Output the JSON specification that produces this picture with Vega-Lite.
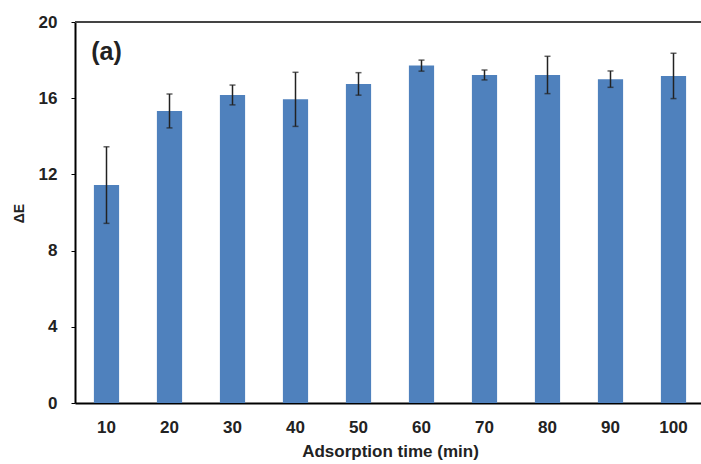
{
  "$schema": "https://vega.github.io/schema/vega-lite/v6.json",
  "autosize": {"type": "none"},
  "padding": {"left": 75, "top": 22, "right": 0, "bottom": 61},
  "width": 630,
  "height": 381,
  "background": "white",
  "config": {
    "view": {"stroke": null},
    "font": "Liberation Sans"
  },
  "data": {
    "values": [
      {"time": 10, "dE": 11.44, "lo": 9.43, "hi": 13.45},
      {"time": 20, "dE": 15.33, "lo": 14.44, "hi": 16.22},
      {"time": 30, "dE": 16.17, "lo": 15.65, "hi": 16.69},
      {"time": 40, "dE": 15.94, "lo": 14.52, "hi": 17.36},
      {"time": 50, "dE": 16.75, "lo": 16.16, "hi": 17.34},
      {"time": 60, "dE": 17.71, "lo": 17.42, "hi": 18.0},
      {"time": 70, "dE": 17.22, "lo": 16.96, "hi": 17.48},
      {"time": 80, "dE": 17.22, "lo": 16.24, "hi": 18.2},
      {"time": 90, "dE": 17.0, "lo": 16.57, "hi": 17.43},
      {"time": 100, "dE": 17.17, "lo": 15.98, "hi": 18.36}
    ]
  },
  "layer": [
    {
      "mark": {"type": "bar", "color": "#4F81BD"},
      "encoding": {
        "x": {
          "field": "time",
          "type": "ordinal",
          "scale": {"paddingInner": 0.6, "paddingOuter": 0.3},
          "axis": {
            "title": "Adsorption time (min)",
            "titleFont": "Liberation Sans",
            "titleFontSize": 17,
            "titleFontWeight": "bold",
            "titleColor": "#222222",
            "titlePadding": 8,
            "labelAngle": 0,
            "labelFontSize": 17,
            "labelFontWeight": "bold",
            "labelColor": "#222222",
            "labelPadding": 16,
            "ticks": false,
            "domainColor": "black",
            "domainWidth": 2
          }
        },
        "y": {
          "field": "dE",
          "type": "quantitative",
          "scale": {"domain": [0, 20]},
          "axis": {
            "title": "ΔE",
            "titleFontSize": 14,
            "titleFontWeight": "bold",
            "titleColor": "#222222",
            "titleX": -49,
            "titleY": 191,
            "values": [0, 4, 8, 12, 16, 20],
            "grid": false,
            "labelFontSize": 17,
            "labelFontWeight": "bold",
            "labelColor": "#222222",
            "labelPadding": 14,
            "tickSize": 4,
            "tickColor": "black",
            "domainColor": "black",
            "domainWidth": 2
          }
        }
      }
    },
    {
      "data": {"values": [{"top": 20}]},
      "mark": {"type": "rule", "color": "#444444", "strokeWidth": 2},
      "encoding": {
        "y": {"field": "top", "type": "quantitative"}
      }
    },
    {
      "mark": {"type": "rule", "color": "#222222", "strokeWidth": 1.5},
      "encoding": {
        "x": {"field": "time", "type": "ordinal"},
        "y": {"field": "lo", "type": "quantitative"},
        "y2": {"field": "hi"}
      }
    },
    {
      "mark": {"type": "tick", "color": "#222222", "thickness": 1.5, "size": 6},
      "encoding": {
        "x": {"field": "time", "type": "ordinal"},
        "y": {"field": "hi", "type": "quantitative"}
      }
    },
    {
      "mark": {"type": "tick", "color": "#222222", "thickness": 1.5, "size": 6},
      "encoding": {
        "x": {"field": "time", "type": "ordinal"},
        "y": {"field": "lo", "type": "quantitative"}
      }
    },
    {
      "data": {"values": [{"time": 10, "label": "(a)", "pos": 18.45}]},
      "mark": {"type": "text", "fontSize": 25, "fontWeight": "bold", "color": "#222222", "align": "center", "baseline": "middle"},
      "encoding": {
        "x": {"field": "time", "type": "ordinal"},
        "y": {"field": "pos", "type": "quantitative"},
        "text": {"field": "label"}
      }
    }
  ]
}
